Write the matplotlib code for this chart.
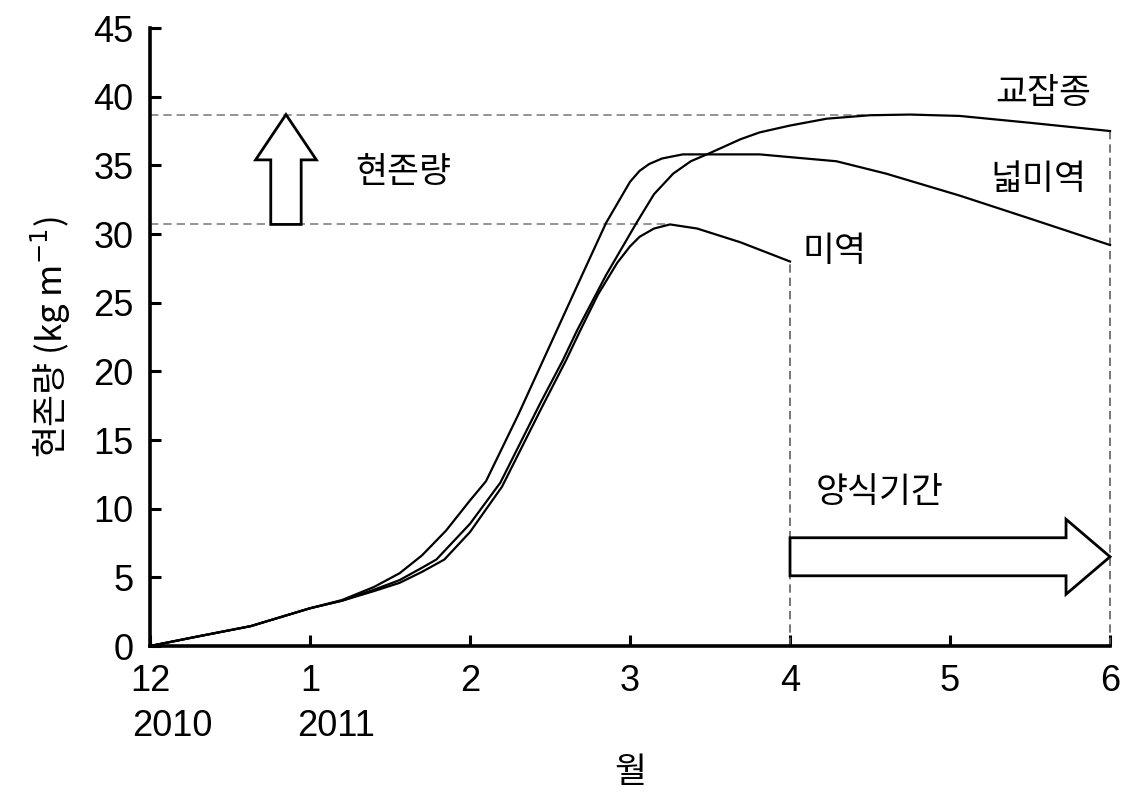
import matplotlib
matplotlib.use("Agg")
import matplotlib.pyplot as plt
from matplotlib.patches import FancyArrow
from matplotlib.transforms import blended_transform_factory

plt.rcParams['font.family'] = ['Liberation Sans', 'Noto Sans CJK KR']
KFONT = ['Noto Sans CJK KR', 'DejaVu Sans']

# --- data (month index: 0 = Dec 2010 ... 6 = Jun 2011)
hyb_x = [0, 0.3, 0.63, 1.0, 1.2, 1.4, 1.56, 1.7, 1.79, 2.0, 2.19, 2.44, 2.58, 2.67,
         2.85, 3.04, 3.15, 3.27, 3.38, 3.5, 3.69, 3.81, 4.0, 4.23, 4.5, 4.75, 5.06, 5.5, 6.0]
hyb_y = [0, 0.7, 1.45, 2.75, 3.3, 4.1, 4.8, 5.7, 6.3, 8.9, 11.9, 17.7, 20.8, 23.0,
         27.0, 30.8, 32.9, 34.4, 35.3, 35.9, 36.9, 37.4, 37.9, 38.4, 38.65, 38.7, 38.6, 38.1, 37.5]

wide_x = [0, 0.3, 0.63, 1.0, 1.2, 1.4, 1.56, 1.7, 1.85, 2.0, 2.1, 2.3, 2.5, 2.7,
          2.85, 2.94, 3.0, 3.06, 3.12, 3.2, 3.33, 3.69, 3.81, 4.0, 4.29, 4.6, 5.06, 5.48, 6.0]
wide_y = [0, 0.7, 1.45, 2.75, 3.35, 4.3, 5.3, 6.6, 8.4, 10.6, 12.0, 16.8, 21.9, 27.0,
          30.8, 32.6, 33.8, 34.6, 35.1, 35.5, 35.8, 35.8, 35.8, 35.6, 35.3, 34.4, 32.8, 31.2, 29.2]

miyeok_x = [0, 0.3, 0.63, 1.0, 1.2, 1.4, 1.56, 1.7, 1.84, 2.0, 2.2, 2.45, 2.6, 2.69,
            2.8, 2.92, 3.0, 3.06, 3.15, 3.25, 3.42, 3.69, 4.0]
miyeok_y = [0, 0.7, 1.45, 2.75, 3.3, 4.0, 4.6, 5.4, 6.3, 8.3, 11.6, 17.4, 20.8, 23.0,
            25.6, 27.9, 29.1, 29.8, 30.4, 30.7, 30.4, 29.4, 28.0]

peak_hyb = 38.7
peak_miyeok = 30.7
peak_hyb_x = 4.6
peak_miyeok_x = 3.25
harvest_miyeok = 4
harvest_end = 6

tick_pos = [0, 1, 2, 3, 4, 5, 6]
tick_lbl = ['12', '1', '2', '3', '4', '5', '6']
year_lbl = ['2010', '2011']

fig = plt.figure(figsize=(11.25, 7.92), dpi=100)
ax = fig.add_axes([0.1333, 0.1843, 0.8534, 0.7803])

for xs, ys in [(hyb_x, hyb_y), (wide_x, wide_y), (miyeok_x, miyeok_y)]:
    ax.plot(xs, ys, color='black', lw=1.6, clip_on=False, zorder=3)

# reference dashed lines
dash = (0, (5, 3))
ax.plot([0, peak_hyb_x], [peak_hyb, peak_hyb], color='#808080', lw=1.2, linestyle=dash)
ax.plot([0, peak_miyeok_x], [peak_miyeok, peak_miyeok], color='#808080', lw=1.2, linestyle=dash)
ax.plot([harvest_miyeok, harvest_miyeok], [0, miyeok_y[-1]], color='#606060', lw=1.2, linestyle=dash)
ax.plot([harvest_end, harvest_end], [0, hyb_y[-1]], color='#606060', lw=1.2, linestyle=dash,
        clip_on=False)

# arrows
ax.add_patch(FancyArrow(0.85, peak_miyeok, 0, peak_hyb - peak_miyeok, width=0.19,
                        head_width=0.38, head_length=3.3, length_includes_head=True,
                        facecolor='white', edgecolor='black', lw=2, zorder=4))
ax.add_patch(FancyArrow(harvest_miyeok, 6.5, harvest_end - harvest_miyeok, 0, width=2.77,
                        head_width=5.46, head_length=0.275, length_includes_head=True,
                        facecolor='white', edgecolor='black', lw=2, zorder=4, clip_on=False))

# labels
kw = dict(family=KFONT, fontsize=25, ha='center', va='center')
ax.text(1.58, 34.5, '현존량', **kw)
ax.text(5.58, 40.2, '교잡종', **kw)
ax.text(5.55, 34.0, '넓미역', **kw)
ax.text(4.28, 28.7, '미역', **kw)
ax.text(4.56, 11.2, '양식기간', **kw)

ax.set_xlim(0, 6)
ax.set_ylim(0, 45)
ax.set_yticks(range(0, 46, 5))
ax.set_xticks(tick_pos)
ax.set_xticklabels(tick_lbl)
ax.tick_params(direction='in', length=8, width=2.2, labelsize=26)
ax.tick_params(axis='x', pad=13)
ax.tick_params(axis='y', pad=12)
for s in ['top', 'right']:
    ax.spines[s].set_visible(False)
for s in ['left', 'bottom']:
    ax.spines[s].set_linewidth(2.6)

tr = blended_transform_factory(ax.transData, ax.transAxes)
for xp, lbl in zip([0.14, 1.16], year_lbl):
    ax.text(xp, -0.131, lbl, transform=tr, fontsize=26, ha='center', va='center')

ax.set_xlabel('월', family=KFONT, fontsize=25, labelpad=40)
ax.set_ylabel('현존량 (kg m$^{-1}$)', family=KFONT, fontsize=25, labelpad=14)

fig.savefig('out.png', dpi=100)
